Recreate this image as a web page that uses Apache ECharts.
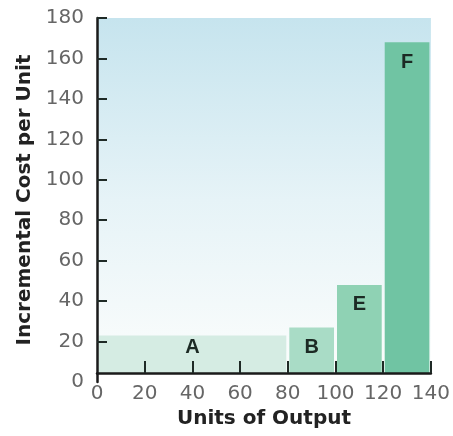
<!DOCTYPE html>
<html>
<head>
<meta charset="utf-8">
<script src="https://cdn.jsdelivr.net/npm/echarts@6/dist/echarts.min.js"></script>
<style>html,body{margin:0;padding:0;background:#fff}#c{width:453px;height:436px}</style>
</head>
<body>
<div id="c"></div>
<script>
// Data
const barLabels = ['A', 'B', 'E', 'F'];
const barStarts = [0, 80, 100, 120];
const barEnds = [80, 100, 120, 140];
const barValues = [23, 27, 48, 168];
const yTickValues = [0, 20, 40, 60, 80, 100, 120, 140, 160, 180];
const xTickValues = [0, 20, 40, 60, 80, 100, 120, 140];

const barColors = ['#d5ece3', '#a9dcc6', '#8fd2b4', '#70c4a3'];
const axisLift = 9; // x-axis line drawn slightly above the zero level, as in the original

const chart = echarts.init(document.getElementById('c'), null, {renderer: 'canvas'});

const seriesData = barLabels.map((l, i) => [barStarts[i], barEnds[i], barValues[i], l]);

const option = {
  animation: false,
  grid: {
    left: 97, right: 20, top: 18, bottom: 54,
    show: true, borderWidth: 0,
    backgroundColor: new echarts.graphic.LinearGradient(0, 0, 0, 1, [
      {offset: 0, color: '#c6e4ee'},
      {offset: 0.5, color: '#e6f3f7'},
      {offset: 0.97, color: '#fbfdfc'},
      {offset: 0.971, color: '#ffffff'},
      {offset: 1, color: '#ffffff'}
    ])
  },
  xAxis: {
    type: 'value', min: 0, max: 140, interval: 20,
    offset: -axisLift, z: 5,
    name: 'Units of Output', nameLocation: 'middle', nameGap: 32,
    nameTextStyle: {fontFamily: 'DejaVu Sans', fontWeight: 'bold', fontSize: 20, color: '#222'},
    axisLine: {show: true, onZero: false, lineStyle: {color: '#1a1a1a', width: 2.5}},
    axisTick: {show: true, inside: true, length: 12, customValues: xTickValues.filter(v => v > 0), lineStyle: {color: '#1f2a26', width: 2}},
    axisLabel: {margin: 11, customValues: xTickValues, fontFamily: 'DejaVu Sans', fontSize: 20, color: '#666'},
    splitLine: {show: false}
  },
  yAxis: {
    type: 'value', min: 0, max: 180, interval: 20, z: 5,
    name: 'Incremental Cost per Unit', nameLocation: 'middle', nameGap: 62, nameRotate: 90,
    nameTextStyle: {fontFamily: 'DejaVu Sans', fontWeight: 'bold', fontSize: 20, color: '#222'},
    axisLine: {show: true, lineStyle: {color: '#1a1a1a', width: 2.5}},
    axisTick: {show: true, inside: true, length: 10, customValues: yTickValues.filter(v => v > 0), lineStyle: {color: '#1f2a26', width: 2}},
    axisLabel: {margin: 13, customValues: yTickValues, fontFamily: 'DejaVu Sans', fontSize: 20, color: '#666'},
    splitLine: {show: false}
  },
  series: [{
    type: 'custom',
    data: seriesData,
    encode: {x: [0, 1], y: 2},
    renderItem: function (params, api) {
      const x0 = api.value(0), x1 = api.value(1), v = api.value(2);
      const idx = params.dataIndex;
      const pTop = api.coord([x0, v]);
      const pEnd = api.coord([x1, v]);
      const cs = params.coordSys;
      const baseY = cs.y + cs.height - axisLift;
      const left = pTop[0] + 1.5, right = pEnd[0] - 1.5;
      const top = pTop[1];
      const labelY = Math.min(top + 20, baseY - 26);
      return {
        type: 'group',
        children: [{
          type: 'rect',
          shape: {x: left, y: top, width: right - left, height: baseY - top},
          style: {fill: barColors[idx]}
        }, {
          type: 'text',
          x: (left + right) / 2, y: labelY,
          style: {text: barLabels[idx], fill: '#1c2a24', font: 'bold 20px "Liberation Sans", Arial', align: 'center', verticalAlign: 'middle'}
        }]
      };
    }
  }]
};
chart.setOption(option);
</script>
</body>
</html>
